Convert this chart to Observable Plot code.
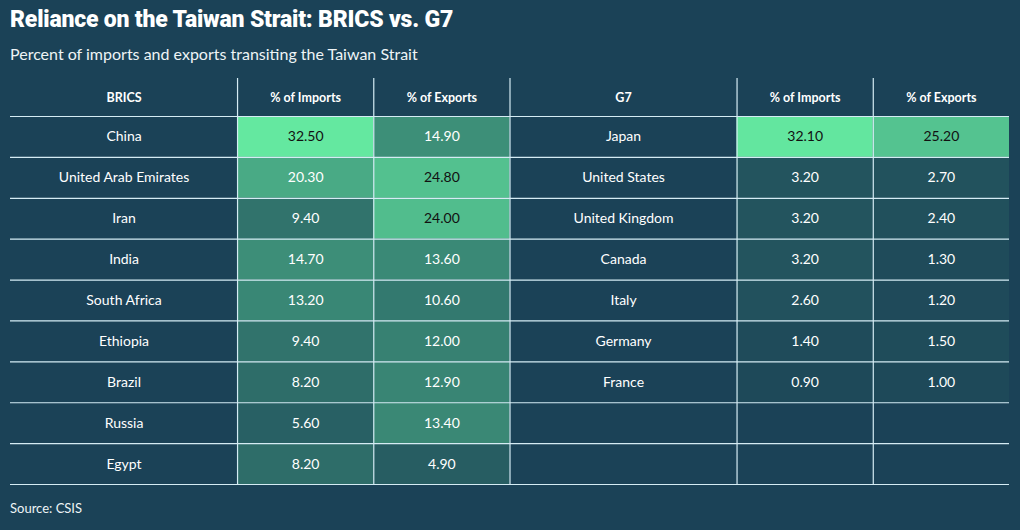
<!DOCTYPE html>
<html>
<head>
<meta charset="utf-8">
<script src="https://cdn.jsdelivr.net/npm/d3@7"></script>
<script src="https://cdn.jsdelivr.net/npm/@observablehq/plot@0.6"></script>
<style>
  html, body { margin: 0; padding: 0; background: #1b4257; }
  body { width: 1020px; height: 530px; overflow: hidden; font-family: Lato, "Open Sans", sans-serif; color: #fff; }
  #title { position: absolute; left: 10px; top: 6px; font-family: Roboto, sans-serif; font-weight: 900; font-size: 23px; letter-spacing: -0.2px; color: #fff; }
  #subtitle { position: absolute; left: 10px; top: 44px; font-size: 16px; color: #eef4f6; }
  #chart { position: absolute; left: 0; top: 70px; }
  #caption { position: absolute; left: 10px; top: 500px; font-size: 13px; color: #eef4f6; }
</style>
</head>
<body>
<div id="title">Reliance on the Taiwan Strait: BRICS vs. G7</div>
<div id="subtitle">Percent of imports and exports transiting the Taiwan Strait</div>
<div id="chart"></div>
<div id="caption">Source: CSIS</div>
<script>
const headers = ["BRICS", "% of Imports", "% of Exports", "G7", "% of Imports", "% of Exports"];
const bricsCountries = ["China", "United Arab Emirates", "Iran", "India", "South Africa", "Ethiopia", "Brazil", "Russia", "Egypt"];
const bricsImports = [32.5, 20.3, 9.4, 14.7, 13.2, 9.4, 8.2, 5.6, 8.2];
const bricsExports = [14.9, 24.8, 24.0, 13.6, 10.6, 12.0, 12.9, 13.4, 4.9];
const g7Countries = ["Japan", "United States", "United Kingdom", "Canada", "Italy", "Germany", "France"];
const g7Imports = [32.1, 3.2, 3.2, 3.2, 2.6, 1.4, 0.9];
const g7Exports = [25.2, 2.7, 2.4, 1.3, 1.2, 1.5, 1.0];

// layout: relative column widths (name columns wider)
const spans = [5, 3, 3, 5, 3, 3];
const edges = [0];
spans.forEach(s => edges.push(edges[edges.length - 1] + s));
const nRows = bricsCountries.length;
const total = edges[edges.length - 1];
const headTop = 0.07; // header row is slightly shorter than body rows

const groups = [
  {col: 0, names: bricsCountries, imp: bricsImports, exp: bricsExports},
  {col: 3, names: g7Countries, imp: g7Imports, exp: g7Exports}
];

const nameCells = [];
const valueCells = [];
groups.forEach(g => {
  g.names.forEach((n, i) => {
    nameCells.push({c: g.col, row: i + 1, text: n});
    valueCells.push({c: g.col + 1, row: i + 1, v: g.imp[i]});
    valueCells.push({c: g.col + 2, row: i + 1, v: g.exp[i]});
  });
});
const headerCells = headers.map((h, c) => ({c, row: 0, text: h}));

const cx = d => (edges[d.c] + edges[d.c + 1]) / 2;
const rowY = d => d.row === 0 ? (headTop + 1) / 2 : d.row + 0.5;

const hLines = d3.range(1, nRows + 2);
const vLines = edges.slice(1, -1);

const chart = Plot.plot({
  width: 1020,
  height: 420,
  marginLeft: 10,
  marginRight: 11,
  marginTop: 8,
  marginBottom: 6,
  style: {background: "transparent", color: "#fff"},
  x: {axis: null, domain: [0, total]},
  y: {axis: null, domain: [headTop, nRows + 1], reverse: true},
  color: {type: "linear", domain: [0, 32.5], range: ["#1c4457", "#64e8a0"], interpolate: "rgb"},
  marks: [
    Plot.rect(valueCells, {
      x1: d => edges[d.c], x2: d => edges[d.c + 1],
      y1: d => d.row, y2: d => d.row + 1,
      fill: "v", inset: 0
    }),
    Plot.ruleY(hLines, {x1: 0, x2: total, stroke: "#d5ecf4", strokeWidth: 1.2}),
    Plot.ruleX(vLines, {y1: headTop, y2: nRows + 1, stroke: "#d5ecf4", strokeWidth: 1.2}),
    Plot.text(headerCells, {x: cx, y: rowY, text: "text", fill: "#fff", fontSize: 12.5, fontWeight: 700, fontFamily: "Lato, sans-serif"}),
    Plot.text(nameCells, {x: cx, y: rowY, text: "text", fill: "#fff", fontSize: 14, fontFamily: "Lato, sans-serif"}),
    Plot.text(valueCells.filter(d => d.v <= 22), {x: cx, y: rowY, text: d => d.v.toFixed(2), fill: "#fff", fontSize: 14, fontFamily: "Lato, sans-serif"}),
    Plot.text(valueCells.filter(d => d.v > 22), {x: cx, y: rowY, text: d => d.v.toFixed(2), fill: "#111", fontSize: 14, fontFamily: "Lato, sans-serif"})
  ]
});
document.getElementById("chart").appendChild(chart);
</script>
</body>
</html>
